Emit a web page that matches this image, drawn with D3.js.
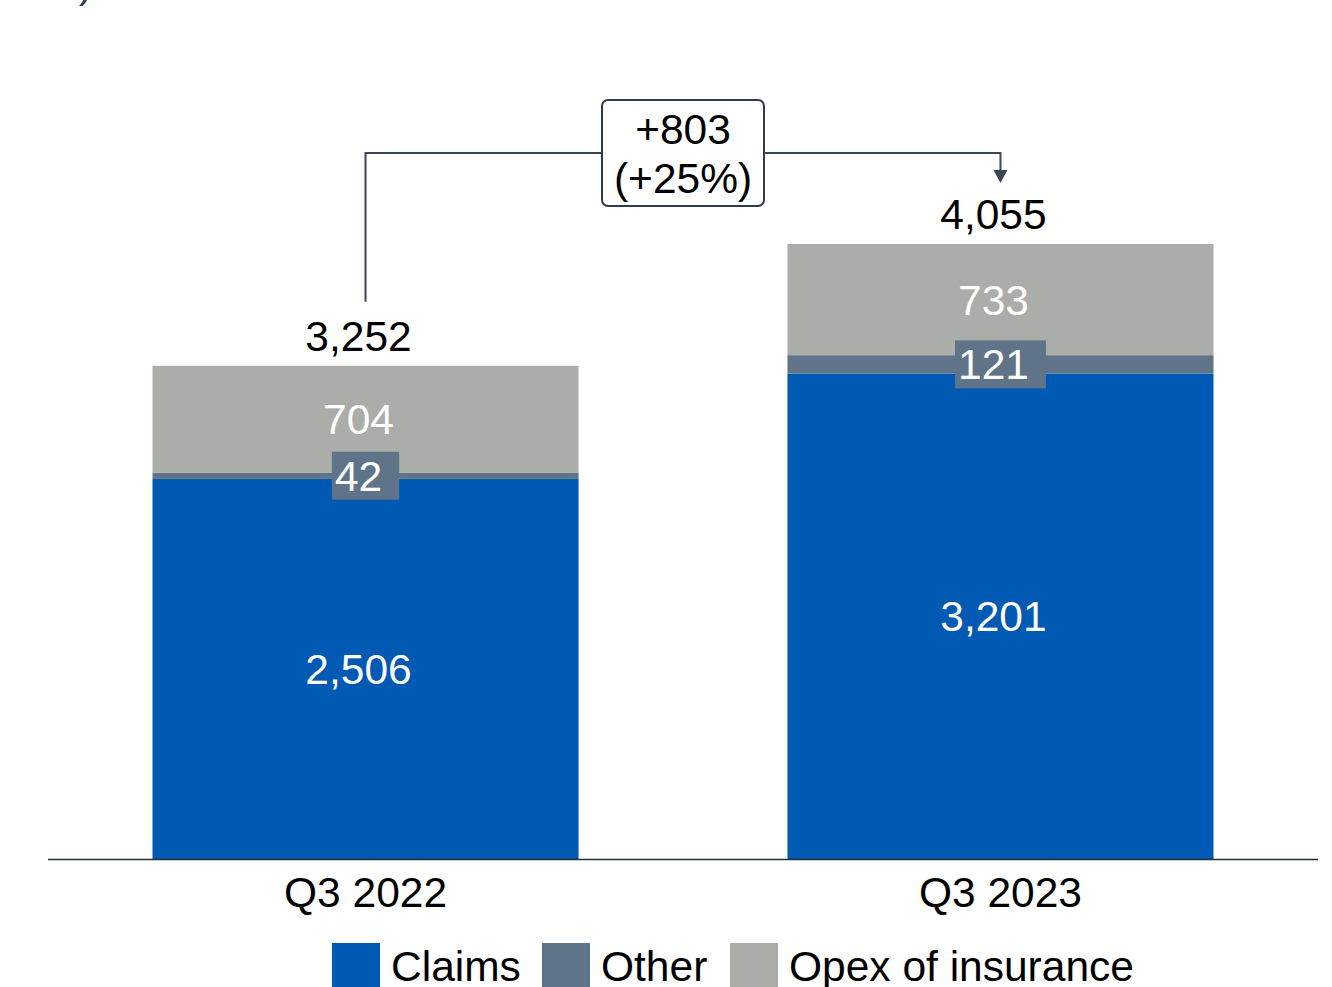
<!DOCTYPE html>
<html><head><meta charset="utf-8">
<script src="https://cdn.jsdelivr.net/npm/d3@7"></script>
<style>body{margin:0;background:#fff}svg{display:block;font-family:"Liberation Sans",Arial,sans-serif}</style>
</head><body><svg id="c" width="1332" height="987"></svg>
<script>
const categories = ["Q3 2022", "Q3 2023"];
const seriesNames = ["Claims", "Other", "Opex of insurance"];
const claims = [2506, 3201];
const other = [42, 121];
const opex = [704, 733];
const totals = [3252, 4055];
const changeLabel = ["+803", "(+25%)"];
const colors = ["#0059b3", "#5f7489", "#abada8"];

const svg = d3.select("#c");
const x = d3.scaleBand().domain(categories).range([48, 1318]).paddingInner(0.329).paddingOuter(0.1646);
const y = d3.scaleLinear().domain([0, 4055]).range([859, 244]);
const fmt = d3.format(",");
const FS = 42.5;

// cut-off title fragment
svg.append("text").attr("x", 93).attr("y", -3).attr("text-anchor", "end")
  .attr("font-size", FS).attr("fill", "#2f4050").text("in EUR m)");

const rows = categories.map((c, i) => ({cat: c, vals: [claims[i], other[i], opex[i]]}));
const stack = d3.stack().keys([0,1,2]).value((d, k) => d.vals[k]);
const series = stack(rows);

series.forEach((s, k) => {
  svg.append("g").selectAll("rect").data(s).join("rect")
    .attr("x", d => x(d.data.cat)).attr("width", x.bandwidth())
    .attr("y", d => y(d[1])).attr("height", d => y(d[0]) - y(d[1]))
    .attr("fill", colors[k]);
});

// axis baseline
svg.append("line").attr("x1", 48).attr("x2", 1318).attr("y1", 859.5).attr("y2", 859.5)
  .attr("stroke", "#1f3038").attr("stroke-width", 1.5);

const cx = c => x(c) + x.bandwidth() / 2;

// segment labels
series.forEach((s, k) => {
  s.forEach(d => {
    const mid = (y(d[0]) + y(d[1])) / 2;
    const val = d.data.vals[k];
    const txt = fmt(val);
    if (k === 1) {
      const w = txt.length * FS * 0.556 + 20;
      svg.append("rect").attr("x", cx(d.data.cat) - w / 2).attr("y", mid - 24)
        .attr("width", w).attr("height", 48).attr("fill", colors[1]);
    }
    svg.append("text").attr("x", cx(d.data.cat) - 7).attr("y", mid + 15)
      .attr("text-anchor", "middle").attr("font-size", FS).attr("fill", "#fff").text(txt);
  });
});

// totals
categories.forEach((c, i) => {
  svg.append("text").attr("x", cx(c) - 7).attr("y", y(totals[i]) - 15)
    .attr("text-anchor", "middle").attr("font-size", FS).attr("fill", "#000").text(fmt(totals[i]));
});

// category labels
categories.forEach(c => {
  svg.append("text").attr("x", cx(c)).attr("y", 907)
    .attr("text-anchor", "middle").attr("font-size", FS).attr("fill", "#000").text(c);
});

// change bracket
const x0 = cx(categories[0]), x1 = cx(categories[1]);
const topY = 153;
svg.append("path")
  .attr("d", `M${x0},${y(totals[0]) - 64} V${topY} H${x1} V${174}`)
  .attr("fill", "none").attr("stroke", "#3a4556").attr("stroke-width", 2);
svg.append("path").attr("d", `M${x1 - 7},${170} L${x1 + 7},${170} L${x1},${183} Z`).attr("fill", "#3a4556");
const bx = 602, bw = 162, byy = 100, bh = 106;
svg.append("rect").attr("x", bx).attr("y", byy).attr("width", bw).attr("height", bh)
  .attr("rx", 6).attr("fill", "#fff").attr("stroke", "#2f3b4c").attr("stroke-width", 2);
svg.append("text").attr("x", bx + bw / 2).attr("y", 144).attr("text-anchor", "middle")
  .attr("font-size", FS).attr("fill", "#000").text(changeLabel[0]);
svg.append("text").attr("x", bx + bw / 2).attr("y", 193).attr("text-anchor", "middle")
  .attr("font-size", FS).attr("fill", "#000").text(changeLabel[1]);

// legend
const legX = [332, 542, 730];
seriesNames.forEach((n, k) => {
  svg.append("rect").attr("x", legX[k]).attr("y", 943).attr("width", 48).attr("height", 48).attr("fill", colors[k]);
  svg.append("text").attr("x", legX[k] + 59).attr("y", 981).attr("font-size", FS).attr("fill", "#000").text(n);
});
</script></body></html>
